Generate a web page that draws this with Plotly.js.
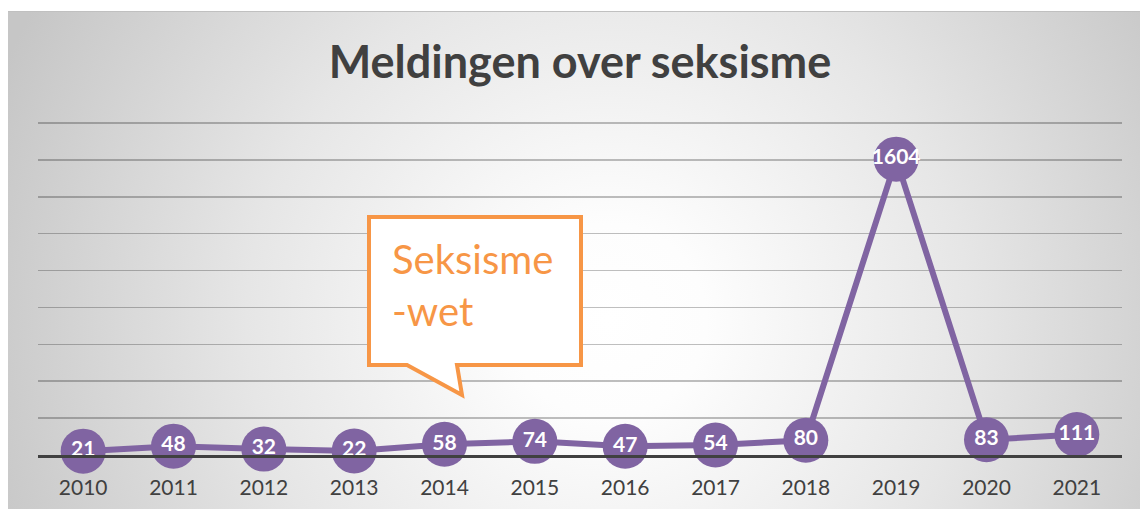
<!DOCTYPE html>
<html>
<head>
<meta charset="utf-8">
<script src="https://cdn.plot.ly/plotly-3.0.1.min.js"></script>
<style>
  html, body { margin: 0; padding: 0; background: #ffffff; }
  #bg {
    position: absolute; left: 8px; top: 11px; width: 1132px; height: 498px;
    background: radial-gradient(ellipse 58% 130% at 53% 62%, #ffffff 0%, #fdfdfd 15%, #e6e6e6 55%, #c6c6c6 100%);
    border-top: 1px solid #c0c0c0;
  }
  #chart { position: absolute; left: 0; top: 0; width: 1140px; height: 509px; }
</style>
</head>
<body>
<div id="bg"></div>
<div id="chart"></div>
<script>
const years = ["2010","2011","2012","2013","2014","2015","2016","2017","2018","2019","2020","2021"];
const meldingen = [21, 48, 32, 22, 58, 74, 47, 54, 80, 1604, 83, 111];
const titleText = "Meldingen over seksisme";
const calloutText = "Seksisme<br>-wet";

const W = 1140, H = 509;
const mL = 38, mR = 18, mT = 118, mB = 54;
const pw = W - mL - mR, ph = H - mT - mB;
const px = v => (v - mL) / pw;          // pixel x -> paper
const py = v => (H - mB - v) / ph;      // pixel y -> paper
const yTop = 1800 * ph / 332;           // keep 1800 at 332 px above baseline

const trace = {
  x: years,
  y: meldingen,
  type: 'scatter',
  mode: 'lines+markers+text',
  line: { color: '#8064A2', width: 6 },
  marker: { color: '#8064A2', size: 45 },
  text: meldingen.map(String),
  textposition: 'middle center',
  textfont: { family: 'Lato, sans-serif', size: 21, color: '#ffffff', weight: 'bold' },
  cliponaxis: false,
  hoverinfo: 'x+y'
};

const calloutPath = 'M ' + px(369) + ' ' + py(217) +
  ' L ' + px(581) + ' ' + py(217) +
  ' L ' + px(581) + ' ' + py(365) +
  ' L ' + px(457) + ' ' + py(365) +
  ' L ' + px(462) + ' ' + py(395) +
  ' L ' + px(407) + ' ' + py(365) +
  ' L ' + px(369) + ' ' + py(365) + ' Z';

const layout = {
  width: W, height: H,
  margin: { l: mL, r: mR, t: mT, b: mB },
  paper_bgcolor: 'rgba(0,0,0,0)',
  plot_bgcolor: 'rgba(0,0,0,0)',
  showlegend: false,
  title: {
    text: '<b>' + titleText + '</b>',
    font: { family: 'Lato, sans-serif', size: 45, color: '#404040' },
    x: 580 / W, xanchor: 'center',
    yref: 'container', y: 1 - 62 / H, yanchor: 'middle'
  },
  xaxis: {
    type: 'category',
    range: [-0.5, years.length - 0.5],
    showgrid: false,
    showline: true, linecolor: '#404040', linewidth: 3,
    ticks: '',
    ticklabelstandoff: 12,
    tickfont: { family: 'Lato, sans-serif', size: 21, color: '#404040' },
    fixedrange: true
  },
  yaxis: {
    range: [0, yTop],
    tick0: 0,
    dtick: 200,
    showticklabels: false,
    showgrid: true, gridcolor: 'rgba(0,0,0,0.25)', gridwidth: 1.5,
    zeroline: false,
    fixedrange: true
  },
  shapes: [{
    type: 'path', xref: 'paper', yref: 'paper',
    path: calloutPath,
    fillcolor: '#ffffff',
    line: { color: '#F79646', width: 4 },
    layer: 'above'
  }],
  annotations: [{
    xref: 'paper', yref: 'paper',
    x: px(390), y: py(285),
    xanchor: 'left', yanchor: 'middle', align: 'left',
    text: calloutText,
    showarrow: false,
    font: { family: 'Lato, sans-serif', size: 40, color: '#F79646' }
  }]
};

Plotly.newPlot('chart', [trace], layout, { displayModeBar: false, staticPlot: true });
</script>
</body>
</html>
